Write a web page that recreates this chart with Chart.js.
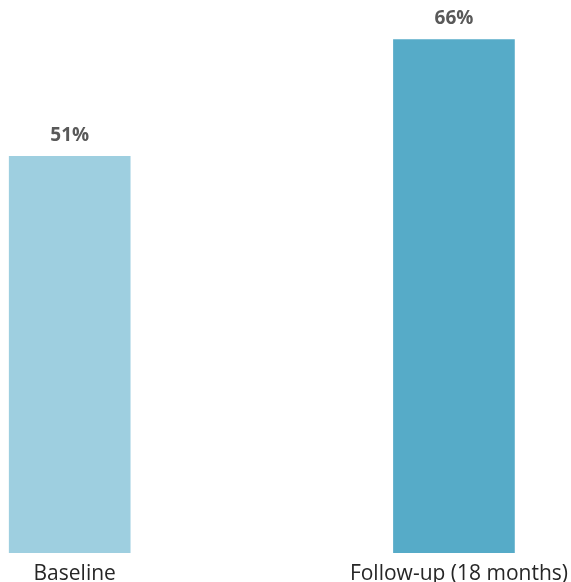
<!DOCTYPE html>
<html>
<head>
<meta charset="utf-8">
<script src="https://cdn.jsdelivr.net/npm/chart.js@4.4.1/dist/chart.umd.min.js"></script>
<style>
  html, body { margin: 0; padding: 0; background: #fff; }
  #wrap { width: 571px; height: 582px; }
</style>
</head>
<body>
<div id="wrap"><canvas id="barChart"></canvas></div>
<script>
/* Share of respondents at each survey wave */
const categories = ['Baseline', 'Follow-up (18 months)'];
const values = [51, 66];
const barColors = ['#9ecfe0', '#56abc8'];

/* Draws "NN%" above each bar */
const valueLabels = {
    id: 'valueLabels',
    afterDatasetsDraw(chart) {
        const ctx = chart.ctx;
        const meta = chart.getDatasetMeta(0);
        ctx.save();
        ctx.font = 'bold 19px "Open Sans", sans-serif';
        ctx.fillStyle = '#595959';
        ctx.textAlign = 'center';
        ctx.textBaseline = 'middle';
        meta.data.forEach((bar, i) => {
            ctx.fillText(values[i] + '%', bar.x, bar.y - 21);
        });
        ctx.restore();
    }
};

document.addEventListener('DOMContentLoaded', function () {
    const ctx = document.getElementById('barChart');
    new Chart(ctx.getContext('2d'), {
        type: 'bar',
        data: {
            datasets: [{
                data: values.map((v, i) => ({ x: i, y: v })),
                backgroundColor: barColors,
                barThickness: 121,
                borderWidth: 0,
            }]
        },
        options: {
            responsive: true,
            maintainAspectRatio: false,
            animation: false,
            layout: { padding: 0 },
            plugins: {
                legend: { display: false },
                tooltip: { enabled: false }
            },
            scales: {
                x: {
                    type: 'linear',
                    offset: false,
                    min: -0.1814,
                    max: 1.3005,
                    afterBuildTicks: axis => { axis.ticks = categories.map((c, i) => ({ value: i })); },
                    afterFit: axis => { axis.height = 29; },
                    grid: { display: false, drawTicks: false, offset: false },
                    border: { display: false },
                    ticks: {
                        padding: 8,
                        labelOffset: 5,
                        color: '#262626',
                        font: { family: '"Open Sans", sans-serif', size: 21 },
                        callback: v => categories[v]
                    }
                },
                y: {
                    display: false,
                    min: 0,
                    max: 71.1
                }
            }
        },
        plugins: [valueLabels]
    });
});
</script>
</body>
</html>
